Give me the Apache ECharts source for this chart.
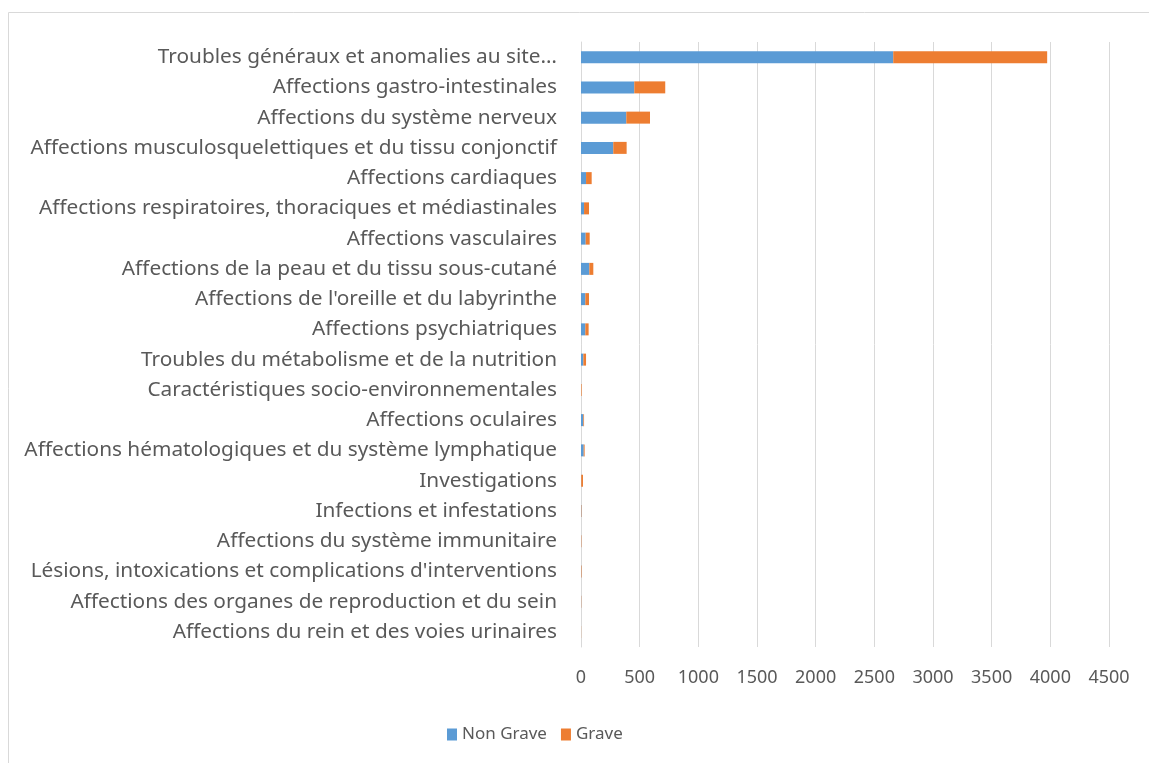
<!DOCTYPE html>
<html>
<head>
<meta charset="utf-8">
<script src="https://cdn.jsdelivr.net/npm/echarts@6/dist/echarts.min.js"></script>
<style>
  html, body { margin: 0; padding: 0; background: #fff; }
  #chart { width: 1149px; height: 763px; }
</style>
</head>
<body>
<div id="chart"></div>
<script>
// catégories (de haut en bas)
const categories = [
  'Troubles généraux et anomalies au site…',
  'Affections gastro-intestinales',
  'Affections du système nerveux',
  'Affections musculosquelettiques et du tissu conjonctif',
  'Affections cardiaques',
  'Affections respiratoires, thoraciques et médiastinales',
  'Affections vasculaires',
  'Affections de la peau et du tissu sous-cutané',
  "Affections de l'oreille et du labyrinthe",
  'Affections psychiatriques',
  'Troubles du métabolisme et de la nutrition',
  'Caractéristiques socio-environnementales',
  'Affections oculaires',
  'Affections hématologiques et du système lymphatique',
  'Investigations',
  'Infections et infestations',
  'Affections du système immunitaire',
  "Lésions, intoxications et complications d'interventions",
  'Affections des organes de reproduction et du sein',
  'Affections du rein et des voies urinaires'
]
const nonGrave = [2661, 454, 386, 275, 43, 26, 40, 71, 37, 37, 20, 0, 20, 23, 2, 3, 1, 2, 1, 0]
const grave = [1312, 264, 202, 114, 48, 42, 34, 34, 31, 28, 23, 5, 6, 8, 15, 3, 3, 4, 2, 1]
const xTicks = { min: 0, max: 4500, interval: 500 }

const font = 'Noto Sans'
const textColor = '#595959'

const chart = echarts.init(document.getElementById('chart'))
chart.setOption({
  animation: false,
  textStyle: { fontFamily: font },
  graphic: [{
    type: 'rect',
    shape: { x: 8.5, y: 12.5, width: 1200, height: 800 },
    style: { fill: 'none', stroke: '#d9d9d9', lineWidth: 1 },
    silent: true
  }],
  grid: { left: 581, right: 40, top: 42, bottom: 116, containLabel: false },
  legend: {
    bottom: 15,
    left: 442,
    icon: 'rect',
    itemWidth: 10,
    itemHeight: 12,
    itemGap: 14,
    textStyle: { color: textColor, fontSize: 17, fontFamily: font },
    data: ['Non Grave', 'Grave']
  },
  xAxis: {
    type: 'value',
    min: xTicks.min,
    max: xTicks.max,
    interval: xTicks.interval,
    axisLine: { show: false },
    axisTick: { show: false },
    axisLabel: { color: textColor, fontSize: 18, margin: 22, formatter: (v) => String(v) },
    splitLine: { lineStyle: { color: '#d9d9d9', width: 1 } }
  },
  yAxis: {
    type: 'category',
    inverse: true,
    data: categories,
    axisLine: { show: true, lineStyle: { color: '#d9d9d9' } },
    axisTick: { show: false },
    axisLabel: { color: textColor, fontSize: 20.8, margin: 24 }
  },
  series: [
    {
      name: 'Non Grave',
      type: 'bar',
      stack: 'total',
      barWidth: 12,
      itemStyle: { color: '#5b9bd5' },
      data: nonGrave
    },
    {
      name: 'Grave',
      type: 'bar',
      stack: 'total',
      barWidth: 12,
      itemStyle: { color: '#ed7d31' },
      data: grave
    }
  ]
})
</script>
</body>
</html>
